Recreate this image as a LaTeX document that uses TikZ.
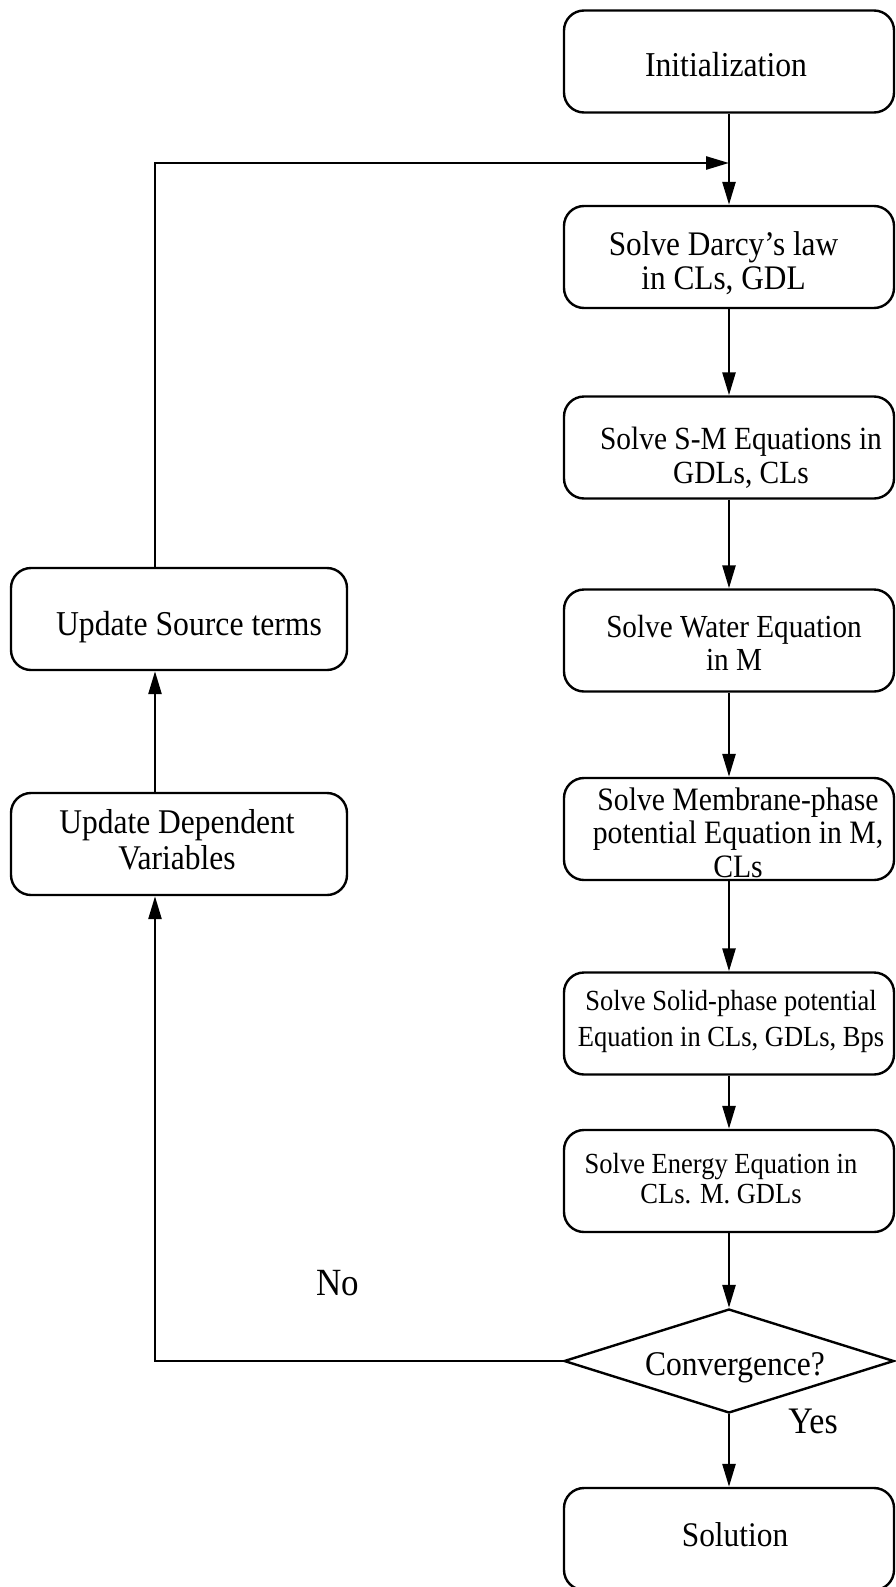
\documentclass[tikz,border=0pt]{standalone}
\usepackage{fontspec}
\setmainfont{Liberation Serif}
\usepackage{graphicx}
\usetikzlibrary{arrows.meta,shapes.geometric}
% #1 = twice the horizontal offset, #2 = first baseline below centre, #3 font size, #4 baselineskip, #5 text
\newcommand\btext[5]{\makebox[0pt][c]{\hspace*{#1pt}\raisebox{-#2pt}[0pt][0pt]{\scalebox{1}[1.1]{\fontsize{#3pt}{#4pt}\selectfont\begin{tabular}[t]{@{}c@{}}#5\end{tabular}}}}}
\newcommand\vst[1]{\scalebox{1}[1.1]{#1}}
\begin{document}
\begin{tikzpicture}[x=1pt,y=-1pt,
  box/.style={draw, line width=2.4pt, rounded corners=20pt, inner sep=0pt,
              minimum width=330pt, minimum height=102pt},
  dia/.style={draw, diamond, line width=2.4pt, inner sep=0pt,
              minimum width=330pt, minimum height=104pt},
  lbl/.style={inner sep=0pt, anchor=base},
  arr/.style={line width=2.6pt, -{Triangle[length=23pt,width=13pt]}}]
\useasboundingbox (0,0) rectangle (895,1587);
\fill[white] (0,0) rectangle (895,1587);

% right column
\node[box] (init) at (729,61.5) {\btext{-6}{15.5}{31.7}{31}{Initialization}};
\node[box] (darcy) at (729,257) {\btext{-11}{-2}{31.3}{31.8}{Solve Darcy’s law\\in CLs, GDL}};
\node[box] (sm) at (729,447.5) {\btext{24}{1.5}{29.4}{31.8}{Solve S-M Equations in\\GDLs, CLs}};
\node[box] (water) at (729,640.5) {\btext{10}{-3.5}{29.2}{30}{Solve Water Equation\\in M}};
\node[box] (memb) at (729,829) {\btext{18}{-19}{29.7}{30.5}{Solve Membrane-phase\\potential Equation in M,\\CLs}};
\node[box] (solid) at (729,1023.5) {\btext{4}{-13.5}{26.5}{33.6}{Solve Solid-phase potential\\Equation in CLs, GDLs, Bps}};
\node[box] (energy) at (729,1181) {\btext{-16}{-8}{26.5}{27.3}{Solve Energy Equation in\\CLs. M. GDLs}};
\node[dia] (conv) at (729,1361) {\btext{12}{14}{31.5}{31}{Convergence?}};
\node[box] (sol) at (729,1539) {\btext{12}{7}{31.4}{31}{Solution}};

% left column
\node[box, minimum width=336pt] (src) at (179,619) {\btext{20}{16}{31.7}{31}{Update Source terms}};
\node[box, minimum width=336pt] (dep) at (179,844) {\btext{-4}{-11}{31.5}{33.6}{Update Dependent\\Variables}};

% labels
\node[lbl, font=\fontsize{35pt}{35pt}\selectfont] (no) at (338,1295) {\vst{No}};
\node[lbl, font=\fontsize{34pt}{34pt}\selectfont] (yes) at (813,1433) {\vst{Yes}};

% main flow
\draw[arr] (init.south) -- (darcy.north);
\draw[arr] (darcy.south) -- (sm.north);
\draw[arr] (sm.south) -- (water.north);
\draw[arr] (water.south) -- (memb.north);
\draw[arr] (memb.south) -- (solid.north);
\draw[arr] (solid.south) -- (energy.north);
\draw[arr] (energy.south) -- (conv.north);
\draw[arr] (conv.south) -- (sol.north);

% feedback loop
\coordinate (join) at (729,163);
\draw[arr] (conv.west) -| ([xshift=-24pt]dep.south);
\draw[arr] ([xshift=-24pt]dep.north) -- ([xshift=-24pt]src.south);
\draw[arr] ([xshift=-24pt]src.north) |- (join);
\end{tikzpicture}
\end{document}
